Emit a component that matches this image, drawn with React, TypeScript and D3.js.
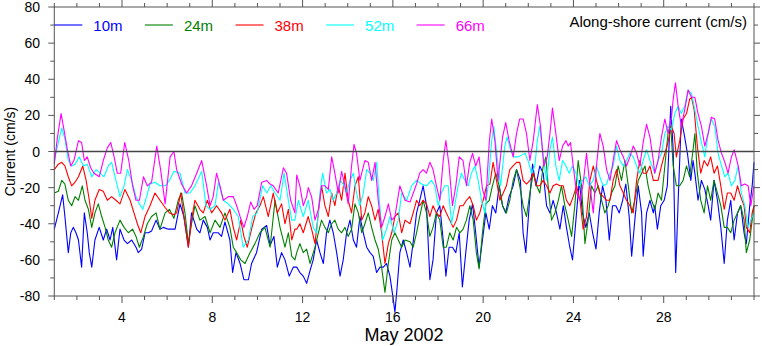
import React, { useEffect } from 'react';
import * as d3 from 'd3';

type P = [number, number];

const seriesNames = ['10m', '24m', '38m', '52m', '66m'];
const seriesColors = ['#0000ff', '#008000', '#ff0000', '#00ffff', '#ff00ff'];
const yTickValues = [-80, -60, -40, -20, 0, 20, 40, 60, 80];
const xTickLabels = [4, 8, 12, 16, 20, 24, 28];
const xLabel = 'May 2002';
const yLabel = 'Current (cm/s)';
const title = 'Along-shore current (cm/s)';

const s10: P[] = [[1.00,-43],[1.18,-34],[1.37,-24],[1.47,-36],[1.62,-56],[1.73,-45],[1.84,-42],[1.96,-45],[2.07,-49],[2.21,-64],[2.33,-34],[2.46,-45],[2.55,-56],[2.66,-64],[2.80,-49],[2.99,-42],[3.17,-49],[3.32,-43],[3.47,-49],[3.59,-42],[3.76,-60],[3.91,-43],[4.09,-49],[4.24,-51],[4.43,-49],[4.62,-53],[4.72,-56],[4.87,-54],[5.02,-45],[5.17,-45],[5.31,-44],[5.51,-38],[5.68,-43],[5.83,-42],[6.05,-43],[6.27,-43],
[6.35,-43],[6.57,-29],[6.74,-36],[6.94,-53],[7.08,-34],[7.31,-43],[7.45,-45],[7.60,-38],[7.78,-42],[7.90,-49],[8.04,-45],[8.27,-45],[8.41,-47],[8.56,-39],[8.78,-49],[8.90,-67],[9.05,-56],[9.23,-62],[9.40,-71],[9.60,-71],[9.74,-62],[9.96,-56],[10.19,-43],[10.41,-41],[10.56,-52],[10.73,-47],[10.88,-64],[11.07,-56],[11.22,-60],[11.41,-69],[11.59,-64],
[11.74,-64],[11.88,-67],[12.03,-69],[12.18,-73],[12.33,-66],[12.47,-60],[12.62,-49],[12.77,-56],[12.92,-62],[13.06,-45],[13.21,-38],[13.36,-45],[13.51,-56],[13.66,-69],[13.80,-60],[13.95,-45],[14.10,-38],[14.25,-49],[14.39,-53],[14.54,-36],[14.69,-45],[14.84,-53],[14.99,-56],[15.13,-58],[15.28,-67],[15.43,-64],[15.58,-64],[15.72,-62],[15.87,-69],[16.02,-82],[16.09,-89],[16.17,-78],[16.31,-56],[16.46,-49],[16.61,-56],[16.76,-64],[16.91,-49],
[17.05,-34],[17.19,-27],[17.34,-19],[17.49,-30],[17.64,-71],[17.78,-60],[17.93,-34],[18.08,-30],[18.23,-49],[18.35,-69],[18.49,-53],[18.64,-53],[18.79,-56],[18.94,-45],[19.08,-75],[19.23,-56],[19.38,-38],[19.53,-29],[19.67,-45],[19.82,-64],[19.97,-49],[20.12,-34],[20.27,-43],[20.41,-30],[20.56,-34],[20.71,-19],[20.86,-30],[21.0,-34],[21.15,-25],[21.33,-19],[21.48,-10],[21.65,-16],[21.77,-45],[21.89,-56],[22.04,-30],[22.19,-7],
[22.34,-19],[22.51,-8],[22.66,-12],[22.81,-30],[22.96,-34],[23.10,-27],[23.25,-34],[23.40,-43],[23.55,-30],[23.69,-42],[23.84,-53],[23.96,-60],[24.11,-38],[24.26,-16],[24.40,-34],[24.55,-42],[24.70,-34],[24.85,-45],[25.0,-54],[25.14,-34],[25.29,-19],[25.44,-27],[25.59,-49],[25.73,-30],[25.88,-30],[26.03,-34],[26.18,-27],[26.32,-18],[26.47,-36],[26.58,-58],[26.72,-38],[26.87,-19],[27.02,-34],[27.09,-58],[27.24,-34],[27.39,-27],[27.54,-34],
[27.60,-30],[27.72,-43],[27.87,-30],[28.02,-27],[28.16,-19],[28.31,25],[28.42,1],[28.53,-67],[28.64,-27],[28.78,18],[28.90,10],[29.05,-1],[29.20,-16],[29.30,-5],[29.38,-12],[29.52,-27],[29.67,-16],[29.82,-21],[29.97,-30],[30.08,-38],[30.23,-16],[30.38,-27],[30.53,-42],[30.68,-62],[30.82,-38],[30.97,-27],[31.12,-49],[31.27,-34],[31.41,-30],[31.56,-45],[31.66,-51],[31.81,-30],[31.92,-19],[32.0,-6]];

const s24: P[] = [[1.00,-23],[1.18,-22],[1.33,-16],[1.47,-18],[1.62,-27],[1.77,-30],[1.92,-25],[2.07,-27],[2.24,-19],[2.36,-27],[2.51,-32],[2.66,-42],[2.80,-34],[2.95,-29],[3.10,-36],[3.25,-42],[3.39,-49],[3.54,-53],[3.69,-45],[3.91,-38],[4.09,-42],[4.28,-45],[4.47,-43],[4.62,-47],[4.77,-53],[4.95,-47],[5.12,-40],[5.31,-36],[5.51,-34],[5.68,-43],[5.91,-34],[6.10,-32],[6.30,-37],
[6.49,-27],[6.64,-23],[6.79,-34],[6.94,-51],[7.08,-40],[7.23,-30],[7.45,-38],[7.68,-36],[7.90,-45],[8.12,-38],[8.34,-42],[8.56,-34],[8.78,-42],[8.93,-53],[9.08,-56],[9.26,-60],[9.45,-62],[9.67,-56],[9.89,-51],[10.11,-45],[10.33,-42],[10.56,-53],[10.78,-27],[11.0,-42],[11.22,-53],[11.37,-45],[11.52,-58],[11.66,-60],
[11.74,-56],[11.88,-51],[12.03,-56],[12.18,-54],[12.33,-62],[12.55,-53],[12.70,-45],[12.84,-38],[12.99,-42],[13.14,-45],[13.29,-40],[13.43,-38],[13.58,-43],[13.73,-45],[13.88,-42],[14.02,-47],[14.17,-43],[14.32,-29],[14.47,-34],[14.62,-45],[14.76,-40],[14.91,-34],[15.06,-42],[15.21,-49],[15.35,-54],[15.50,-64],[15.65,-78],[15.80,-62],[15.95,-49],[16.09,-45],[16.24,-49],[16.39,-53],[16.54,-49],[16.76,-50],
[16.90,-53],[17.05,-45],[17.19,-36],[17.34,-27],[17.49,-34],[17.64,-47],[17.78,-42],[17.93,-34],[18.08,-38],[18.23,-53],[18.37,-53],[18.52,-45],[18.67,-49],[18.82,-42],[18.97,-45],[19.11,-43],[19.26,-38],[19.41,-30],[19.56,-38],[19.70,-56],[19.82,-65],[19.97,-45],[20.12,-29],[20.27,-27],[20.41,-19],[20.56,-12],[20.71,-19],[20.86,-30],[21.03,-34],[21.18,-27],[21.33,-16],[21.48,-10],[21.62,-19],[21.77,-30],[21.92,-36],[22.07,-23],[22.22,-12],
[22.37,-19],[22.51,-23],[22.66,-8],[22.78,-3],[22.88,-19],[23.03,-38],[23.18,-34],[23.33,-27],[23.47,-19],[23.62,-30],[23.77,-38],[23.92,-47],[24.06,-30],[24.21,-5],[24.36,-19],[24.51,-51],[24.65,-38],[24.80,-19],[24.95,-23],[25.10,-19],[25.25,-27],[25.39,-34],[25.54,-30],[25.69,-23],[25.84,-19],[25.98,-8],[26.13,-16],[26.28,-5],[26.43,-19],[26.58,-34],[26.72,-27],[26.87,-16],[27.02,-12],[27.17,-8],[27.31,-19],[27.46,-27],[27.61,-32],
[27.75,-23],[27.90,-27],[28.05,-8],[28.19,10],[28.31,14],[28.42,-8],[28.56,-19],[28.71,-19],[28.86,-16],[29.01,-8],[29.15,-14],[29.30,1],[29.38,10],[29.49,-12],[29.64,-27],[29.79,-34],[29.94,-19],[30.08,-27],[30.23,-16],[30.38,-23],[30.53,-30],[30.68,-42],[30.82,-42],[30.97,-45],[31.12,-38],[31.27,-34],[31.41,-30],[31.56,-38],[31.66,-56],[31.81,-49],[31.92,-38],[32.0,-30]];

const s38: P[] = [[1.00,-10],[1.18,-7],[1.33,-6],[1.47,-8],[1.62,-14],[1.77,-19],[1.92,-17],[2.07,-14],[2.26,-8],[2.41,-16],[2.55,-27],[2.66,-37],[2.80,-27],[2.99,-21],[3.17,-22],[3.35,-27],[3.54,-25],[3.73,-27],[3.91,-29],[4.13,-21],[4.36,-27],[4.53,-34],[4.68,-40],[4.83,-45],[5.02,-36],[5.24,-30],[5.46,-23],[5.68,-27],[5.91,-31],[6.10,-34],[6.30,-35],
[6.42,-34],[6.60,-23],[6.74,-36],[6.94,-53],[7.08,-38],[7.23,-27],[7.45,-32],[7.60,-34],[7.78,-27],[7.97,-34],[8.19,-30],[8.41,-34],[8.56,-38],[8.78,-32],[8.93,-42],[9.08,-49],[9.26,-38],[9.40,-47],[9.55,-53],[9.74,-43],[9.93,-34],[10.11,-30],[10.26,-25],[10.48,-36],[10.70,-23],[10.88,-34],[11.07,-29],[11.22,-40],[11.37,-32],[11.52,-49],[11.66,-43],
[11.74,-43],[11.88,-40],[12.03,-45],[12.25,-36],[12.40,-43],[12.55,-51],[12.70,-34],[12.84,-19],[12.99,-30],[13.14,-36],[13.29,-23],[13.43,-30],[13.58,-19],[13.73,-27],[13.88,-12],[14.02,-27],[14.17,-34],[14.32,-19],[14.47,-14],[14.62,-38],[14.76,-34],[14.91,-25],[15.06,-30],[15.21,-38],[15.35,-32],[15.50,-45],[15.65,-62],[15.80,-51],[15.95,-45],[16.09,-36],[16.24,-34],[16.39,-45],[16.54,-38],[16.76,-40],[16.90,-34],
[17.05,-27],[17.19,-30],[17.34,-27],[17.49,-29],[17.64,-36],[17.78,-30],[17.93,-34],[18.08,-36],[18.23,-30],[18.37,-34],[18.52,-38],[18.67,-42],[18.82,-38],[18.97,-30],[19.11,-30],[19.26,-27],[19.41,-25],[19.56,-30],[19.70,-38],[19.85,-34],[20.0,-27],[20.15,-19],[20.30,-18],[20.44,-6],[20.59,-16],[20.74,-27],[20.89,-23],[21.03,-19],[21.18,-10],[21.33,-8],[21.48,-6],[21.62,-6],[21.77,-16],[21.92,-18],[22.07,-16],[22.22,-12],
[22.37,-19],[22.51,-19],[22.66,-16],[22.81,-19],[22.96,-23],[23.10,-19],[23.25,-18],[23.40,-19],[23.55,-19],[23.69,-27],[23.84,-30],[23.99,-25],[24.14,-19],[24.29,-27],[24.43,-43],[24.58,-36],[24.73,-16],[24.88,-8],[25.02,-16],[25.17,-23],[25.32,-25],[25.47,-27],[25.62,-27],[25.76,-16],[25.91,-10],[26.06,-19],[26.21,-23],[26.35,-27],[26.50,-30],[26.65,-34],[26.80,-16],[26.94,-5],[27.09,-12],[27.24,-12],[27.39,-8],[27.54,-16],
[27.60,-16],[27.75,-16],[27.90,-8],[28.05,-1],[28.19,5],[28.34,14],[28.46,10],[28.56,-3],[28.71,6],[28.86,18],[29.01,21],[29.15,29],[29.23,30],[29.35,23],[29.49,3],[29.64,-12],[29.79,-5],[29.94,-8],[30.08,-3],[30.23,-12],[30.38,-8],[30.53,-19],[30.68,-32],[30.82,-23],[30.97,-23],[31.12,-27],[31.27,-19],[31.41,-25],[31.56,-30],[31.66,-42],[31.81,-45],[31.92,-34],[32.0,-30]];

const s52: P[] = [[1.00,-5],[1.18,5],[1.33,13],[1.47,7],[1.62,-5],[1.77,-8],[1.92,-7],[2.11,-3],[2.29,-8],[2.46,-7],[2.66,-14],[2.85,-10],[3.03,-12],[3.20,-14],[3.39,-8],[3.54,-6],[3.73,-16],[3.91,-25],[4.09,-19],[4.24,-10],[4.43,-16],[4.62,-25],[4.77,-29],[4.92,-32],[5.09,-25],[5.24,-18],[5.46,-17],[5.68,-19],[5.91,-19],[6.10,-16],[6.30,-11],
[6.57,-12],[6.79,-23],[7.01,-23],[7.23,-19],[7.53,-11],[7.72,-30],[7.90,-32],[8.12,-30],[8.27,-17],[8.49,-27],[8.71,-29],[8.93,-32],[9.15,-36],[9.37,-53],[9.60,-49],[9.79,-36],[9.99,-34],[10.23,-19],[10.41,-23],[10.59,-19],[10.78,-23],[11.0,-27],[11.18,-12],[11.37,-27],[11.52,-38],[11.66,-38],
[11.81,-27],[12.03,-36],[12.25,-27],[12.47,-42],[12.62,-45],[12.77,-23],[12.89,-12],[13.06,-23],[13.21,-21],[13.36,-27],[13.51,-23],[13.66,-16],[13.80,-18],[13.95,-23],[14.10,-16],[14.25,-12],[14.39,-23],[14.54,-30],[14.69,-23],[14.84,-10],[14.99,-12],[15.13,-16],[15.28,-6],[15.40,-27],[15.55,-49],[15.72,-43],[15.87,-36],[16.05,-45],[16.24,-38],[16.39,-23],[16.61,-27],[16.83,-19],
[17.05,-16],[17.27,-18],[17.49,-19],[17.71,-16],[17.86,-19],[18.01,-30],[18.15,-23],[18.30,-19],[18.45,-19],[18.60,-40],[18.74,-30],[18.89,-19],[19.04,-12],[19.19,-16],[19.34,-19],[19.48,-12],[19.63,-8],[19.78,-16],[19.93,-27],[20.07,-34],[20.22,-19],[20.37,5],[20.47,14],[20.62,-3],[20.77,-19],[20.96,3],[21.06,8],[21.21,1],[21.36,-3],[21.55,-3],[21.70,-2],[21.85,-1],[21.99,-5],[22.14,-12],[22.29,-8],
[22.40,6],[22.51,14],[22.66,-3],[22.81,-16],[22.96,1],[23.07,8],[23.22,-8],[23.37,-16],[23.52,-5],[23.67,-8],[23.81,-12],[23.96,-8],[24.11,-12],[24.26,-19],[24.40,-16],[24.55,-14],[24.70,-19],[24.88,-16],[25.02,-8],[25.17,-14],[25.32,-19],[25.47,-18],[25.62,-12],[25.76,-8],[25.91,3],[26.06,-5],[26.21,-8],[26.35,-5],[26.50,-1],[26.65,-3],[26.80,-8],[26.94,-12],[27.09,-5],[27.24,1],[27.39,-5],[27.61,-12],
[27.75,-5],[27.90,-1],[28.05,10],[28.19,14],[28.34,12],[28.49,21],[28.64,25],[28.78,21],[28.93,25],[29.08,34],[29.23,32],[29.38,23],[29.52,14],[29.67,5],[29.82,-3],[29.97,10],[30.11,18],[30.26,14],[30.41,-1],[30.56,-8],[30.71,-14],[30.85,-12],[31.0,-19],[31.15,-16],[31.30,-8],[31.44,-23],[31.59,-30],[31.74,-42],[31.86,-38],[32.0,-34]];

const s66: P[] = [[1.00,-7],[1.13,7],[1.30,21],[1.43,12],[1.58,1],[1.73,-8],[1.87,-5],[2.07,6],[2.21,5],[2.33,-5],[2.46,-3],[2.61,-9],[2.76,-12],[2.99,-14],[3.17,-5],[3.35,2],[3.50,5],[3.65,-3],[3.79,-12],[3.94,-12],[4.12,5],[4.30,-5],[4.47,-19],[4.62,-27],[4.77,-27],[4.95,-14],[5.12,-19],[5.31,-17],[5.54,3],[5.71,-10],[5.91,-29],[6.13,-3],[6.30,0],
[6.42,-10],[6.64,-18],[6.86,-23],[7.08,-19],[7.31,-12],[7.53,-5],[7.75,-19],[7.90,-30],[8.04,-25],[8.19,-12],[8.34,-19],[8.49,-27],[8.71,-25],[8.93,-25],[9.08,-30],[9.23,-36],[9.40,-42],[9.55,-36],[9.70,-28],[9.85,-32],[9.99,-30],[10.19,-17],[10.41,-16],[10.56,-18],[10.70,-19],[10.92,-23],[11.15,-9],[11.29,-12],[11.47,-27],[11.66,-34],
[11.74,-13],[11.88,-19],[12.03,-30],[12.18,-25],[12.25,-20],[12.40,-25],[12.55,-38],[12.70,-32],[12.84,-19],[12.99,-19],[13.14,-21],[13.29,-3],[13.43,-12],[13.58,-23],[13.73,-11],[13.88,-19],[14.02,-29],[14.17,-8],[14.28,4],[14.39,-1],[14.54,-16],[14.76,-5],[14.91,-6],[15.06,-16],[15.21,-6],[15.35,-27],[15.50,-42],[15.65,-36],[15.80,-29],[15.95,-38],[16.09,-36],[16.31,-19],[16.54,-27],[16.76,-28],
[17.05,-18],[17.19,-12],[17.34,-10],[17.49,-12],[17.64,-6],[17.78,-10],[17.93,-19],[18.08,-27],[18.23,-5],[18.35,6],[18.49,-8],[18.64,-30],[18.79,-19],[18.94,-3],[19.11,-5],[19.26,-19],[19.41,-6],[19.53,-1],[19.67,-8],[19.82,-3],[19.97,-21],[20.12,-27],[20.27,5],[20.38,18],[20.52,6],[20.66,-16],[20.86,8],[21.0,16],[21.15,6],[21.33,-3],[21.48,10],[21.62,18],[21.77,18],[21.92,10],[22.07,-5],[22.22,6],
[22.40,26],[22.54,14],[22.69,-8],[22.84,-3],[22.96,10],[23.07,24],[23.22,10],[23.37,-5],[23.52,3],[23.67,6],[23.77,3],[23.87,5],[23.99,-8],[24.14,-23],[24.29,-27],[24.43,-18],[24.58,-1],[24.73,-19],[24.88,-34],[25.02,-8],[25.17,10],[25.32,3],[25.47,-10],[25.62,-16],[25.76,-5],[25.91,6],[26.06,1],[26.21,-3],[26.35,-8],[26.50,-3],[26.65,3],[26.80,-1],[26.94,-8],[27.09,5],[27.24,15],[27.39,8],[27.54,-5],
[27.60,-12],[27.75,-5],[27.90,8],[28.05,18],[28.19,10],[28.34,18],[28.42,29],[28.52,38],[28.64,25],[28.78,14],[28.93,23],[29.08,34],[29.23,30],[29.38,30],[29.52,21],[29.67,14],[29.82,3],[29.97,10],[30.11,19],[30.26,18],[30.41,6],[30.56,-1],[30.71,-6],[30.85,-12],[31.0,-3],[31.12,1],[31.30,-8],[31.44,-19],[31.59,-18],[31.74,-19],[31.86,-30],[32.0,-19]];

const seriesData: P[][] = [s10, s24, s38, s52, s66];

const FONT = '"Liberation Sans", Arial, Helvetica, sans-serif';

export default function App() {
  useEffect(() => {
    document.body.style.margin = '0';
  }, []);

  const left = 54.3, right = 754, top = 7, bottom = 296;
  const x = d3.scaleLinear().domain([1, 32]).range([left, right]);
  const y = d3.scaleLinear().domain([-80, 80]).range([bottom, top]);
  const line = d3.line<P>().x(d => x(d[0])).y(d => y(d[1]));

  const dayTicks = d3.range(1, 33);
  const yMinor = d3.range(-80, 81, 10);
  const axisColor = '#555';

  return (
    <svg width={762} height={346} style={{ position: 'absolute', left: 0, top: 0, background: '#fff' }} fontFamily={FONT}>
      <rect x={0} y={0} width={762} height={346} fill="#fff" />
      {seriesData.map((s, i) => (
        <path key={i} d={line(s) || ''} fill="none" stroke={seriesColors[i]} strokeWidth={1.1} strokeLinejoin="round" />
      ))}
      <line x1={left} x2={right} y1={y(0)} y2={y(0)} stroke="#444" strokeWidth={1.5} />
      <rect x={left} y={top} width={right - left} height={bottom - top} fill="none" stroke={axisColor} strokeWidth={1} />
      {dayTicks.map(d => {
        const major = xTickLabels.includes(d);
        const len = major ? 7 : 4;
        return (
          <g key={'xt' + d}>
            <line x1={x(d)} x2={x(d)} y1={bottom} y2={bottom + len} stroke={axisColor} strokeWidth={1} />
            <line x1={x(d)} x2={x(d)} y1={top} y2={top - len} stroke={axisColor} strokeWidth={1} />
          </g>
        );
      })}
      {yMinor.map(v => {
        const major = yTickValues.includes(v);
        const len = major ? 6 : 4;
        return (
          <g key={'yt' + v}>
            <line x1={left} x2={left - len} y1={y(v)} y2={y(v)} stroke={axisColor} strokeWidth={1} />
            <line x1={right} x2={right + len} y1={y(v)} y2={y(v)} stroke={axisColor} strokeWidth={1} />
          </g>
        );
      })}
      {yTickValues.map(v => (
        <text key={'yl' + v} x={40} y={y(v) + 5} textAnchor="end" fontSize={14} fill="#000">{v}</text>
      ))}
      {xTickLabels.map(d => (
        <text key={'xl' + d} x={x(d)} y={322} textAnchor="middle" fontSize={14} fill="#000">{d}</text>
      ))}
      <text x={404} y={341} textAnchor="middle" fontSize={18} fill="#000">{xLabel}</text>
      <text transform={`translate(15,${(top + bottom) / 2}) rotate(-90)`} textAnchor="middle" fontSize={14} fill="#000">{yLabel}</text>
      <text x={747} y={27} textAnchor="end" fontSize={15} fill="#000">{title}</text>
      {seriesNames.map((n, i) => {
        const lx = left + i * 90.6;
        return (
          <g key={'lg' + n}>
            <line x1={lx} x2={lx + 28} y1={25} y2={25} stroke={seriesColors[i]} strokeWidth={1.1} />
            <text x={lx + 39} y={31} fontSize={15} fill={seriesColors[i]}>{n}</text>
          </g>
        );
      })}
    </svg>
  );
}
